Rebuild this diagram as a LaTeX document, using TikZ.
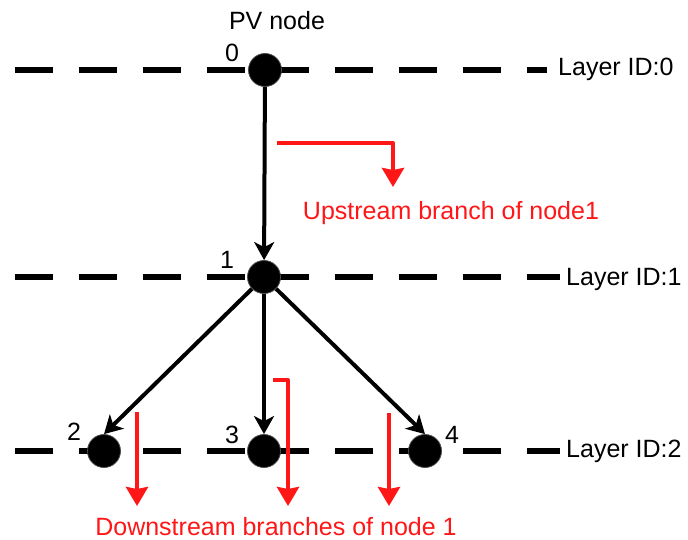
\documentclass[tikz,border=0pt]{standalone}
\usepackage{fontspec}
\setmainfont{Liberation Sans}
\usetikzlibrary{arrows.meta}
\definecolor{branchred}{RGB}{255,22,22}
\begin{document}
\begin{tikzpicture}[x=1pt,y=-1pt,
  layerline/.style={line width=6pt, dash pattern=on 38pt off 26pt},
  vertex/.style={circle, fill=black, draw=black!70, line width=0.8pt,
                 minimum size=33pt, inner sep=0pt},
  link/.style={line width=4pt, -{Stealth[length=18pt,width=20pt,inset=5pt]}},
  branch/.style={draw=branchred, line width=4pt, line join=round,
                 -{Stealth[length=19pt,width=22pt,inset=2pt]}},
  lbl/.style={font=\fontsize{25}{30}\selectfont, inner sep=0pt, anchor=base},
  redlbl/.style={lbl, text=branchred},
  layerlbl/.style={lbl, anchor=base west},
]
\useasboundingbox (0,0) rectangle (688,540);

% layer guide lines
\coordinate (l0a) at (15,70);  \coordinate (l0b) at (547,70);
\coordinate (l1a) at (15,277); \coordinate (l1b) at (560,277);
\coordinate (l2a) at (15,451); \coordinate (l2b) at (560,451);
\draw[layerline] (l0a) -- (l0b);
\draw[layerline] (l1a) -- (l1b);
\draw[layerline] (l2a) -- (l2b);

% layer captions
\node[layerlbl] (cap0) at (558,76) {Layer ID:0};
\node[layerlbl] (cap1) at (566,285) {Layer ID:1};
\node[layerlbl] (cap2) at (566,457) {Layer ID:2};

% network nodes
\node[vertex] (n0) at (265,70) {};
\node[vertex] (n1) at (264,277) {};
\node[vertex] (n2) at (104,451) {};
\node[vertex] (n3) at (264,451) {};
\node[vertex] (n4) at (425,451) {};

% node numbers
\node[lbl] (pv) at (277,30) {PV node};
\node[lbl] (t0) at (232,62) {0};
\node[lbl] (t1) at (227,268) {1};
\node[lbl] (t2) at (74,440) {2};
\node[lbl] (t3) at (232,443) {3};
\node[lbl] (t4) at (452,443) {4};

% power flow
\draw[link] (n0) -- (n1);
\draw[link] (n1) -- (n2.north);
\draw[link] (n1) -- (n3);
\draw[link] (n1) -- (n4.north);

% upstream branch marker
\coordinate (ua) at (277,143);
\coordinate (ub) at (393,143);
\coordinate (uc) at (393,187);
\draw[branch] (ua) -- (ub) -- (uc);
\node[redlbl] (up) at (451,219) {Upstream branch of node1};

% downstream branch markers
\coordinate (da) at (137,412); \coordinate (dA) at (137,506);
\coordinate (db) at (273,380); \coordinate (dm) at (288,380); \coordinate (dB) at (288,506);
\coordinate (dc) at (389,413); \coordinate (dC) at (389,506);
\draw[branch] (da) -- (dA);
\draw[branch] (db) -- (dm) -- (dB);
\draw[branch] (dc) -- (dC);
\node[redlbl] (down) at (276,535) {Downstream branches of node 1};
\end{tikzpicture}
\end{document}
